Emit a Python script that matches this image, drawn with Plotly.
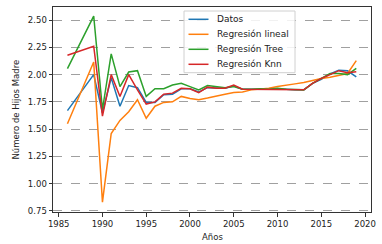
import plotly.graph_objects as go

years = [1986] + list(range(1989, 2020))

datos = [1.67, 2.00, 1.65, 1.97, 1.71, 1.90, 1.88, 1.745, 1.745, 1.815, 1.82, 1.87, 1.87,
         1.84, 1.88, 1.875, 1.875, 1.895, 1.866, 1.866, 1.866, 1.866, 1.872, 1.866, 1.86,
         1.86, 1.92, 1.957, 2.006, 2.04, 2.035, 1.98]
lineal = [1.55, 2.116, 0.83, 1.46, 1.58, 1.66, 1.77, 1.60, 1.71, 1.745, 1.75, 1.80, 1.78,
          1.77, 1.785, 1.805, 1.82, 1.835, 1.84, 1.86, 1.866, 1.875, 1.89, 1.90, 1.915,
          1.927, 1.945, 1.965, 1.975, 1.99, 2.01, 2.128]
tree = [2.055, 2.537, 1.68, 2.19, 1.89, 2.024, 2.036, 1.80, 1.87, 1.87, 1.905, 1.92, 1.89,
        1.86, 1.90, 1.89, 1.88, 1.89, 1.866, 1.866, 1.87, 1.866, 1.875, 1.866, 1.86,
        1.86, 1.92, 1.965, 2.01, 2.01, 2.00, 2.058]
knn = [2.177, 2.26, 1.62, 2.00, 1.80, 2.00, 1.86, 1.73, 1.75, 1.82, 1.83, 1.875, 1.87,
       1.835, 1.885, 1.875, 1.875, 1.905, 1.866, 1.866, 1.866, 1.866, 1.866, 1.866, 1.86,
       1.86, 1.92, 1.965, 2.00, 2.036, 2.018, 2.027]

names = ["Datos", "Regresión lineal", "Regresión Tree", "Regresión Knn"]
colors = ["#1f77b4", "#ff7f0e", "#2ca02c", "#d62728"]
series = [datos, lineal, tree, knn]

yticks = [0.75, 1.00, 1.25, 1.50, 1.75, 2.00, 2.25, 2.50]
ytext = ["0.75", "1.00", "1.25", "1.50", "1.75", "2.00", "2.25", "2.50"]
xticks = [1985, 1990, 1995, 2000, 2005, 2010, 2015, 2020]

W, H = 382, 244
L, R, T, B = 53, 11, 7, 32
PW, PH = W - L - R, H - T - B


def px(x):
    return (x - L) / PW


def py(y):
    return (H - B - y) / PH


fig = go.Figure()
for n, c, s in zip(names, colors, series):
    fig.add_trace(go.Scatter(x=years, y=s, mode="lines", name=n,
                             line=dict(color=c, width=1.5), showlegend=False))

font = "DejaVu Sans"

# legend drawn as a box with line samples and labels
shapes = [dict(type="rect", xref="paper", yref="paper",
               x0=px(184), x1=px(295), y0=py(72.7), y1=py(11),
               fillcolor="rgba(255,255,255,0.85)", line=dict(color="#d0d0d0", width=1),
               layer="above")]
annotations = []
for i, (n, c) in enumerate(zip(names, colors)):
    yy = 19.3 + 15 * i
    shapes.append(dict(type="line", xref="paper", yref="paper",
                       x0=px(188.5), x1=px(208.5), y0=py(yy), y1=py(yy),
                       line=dict(color=c, width=1.5), layer="above"))
    annotations.append(dict(text=n, xref="paper", yref="paper", x=px(215), y=py(yy),
                            xanchor="left", yanchor="middle", showarrow=False,
                            font=dict(family=font, size=9, color="#222")))

annotations.append(dict(text="Años", xref="paper", yref="paper", x=px(212), y=py(236.5),
                        xanchor="center", yanchor="middle", showarrow=False,
                        font=dict(family=font, size=8.5, color="#222")))
annotations.append(dict(text="Número de Hijos Madre", xref="paper", yref="paper",
                        x=px(15), y=py(109.5), xanchor="center", yanchor="middle",
                        textangle=-90, showarrow=False,
                        font=dict(family=font, size=8.5, color="#222")))

fig.update_layout(
    width=W, height=H,
    margin=dict(l=L, r=R, t=T, b=B),
    paper_bgcolor="white", plot_bgcolor="white",
    font=dict(family=font, size=8.5, color="#222"),
    showlegend=False,
    shapes=shapes, annotations=annotations,
    xaxis=dict(range=[1984.35, 2020.68], tickvals=xticks, ticks="outside", ticklen=3.5,
               tickcolor="#333", showgrid=False, zeroline=False,
               showline=True, linecolor="#333", linewidth=1, mirror=True),
    yaxis=dict(range=[0.74, 2.62], tickvals=yticks, ticktext=ytext, ticks="outside",
               ticklen=3.5, tickcolor="#333",
               showgrid=True, gridcolor="#a0a0a0", griddash="dash", gridwidth=0.8,
               zeroline=False, showline=True, linecolor="#333", linewidth=1, mirror=True),
)

fig.write_html("out.html", config={"displayModeBar": False},
               post_script="document.body.style.margin='0';document.body.style.overflow='hidden';")
